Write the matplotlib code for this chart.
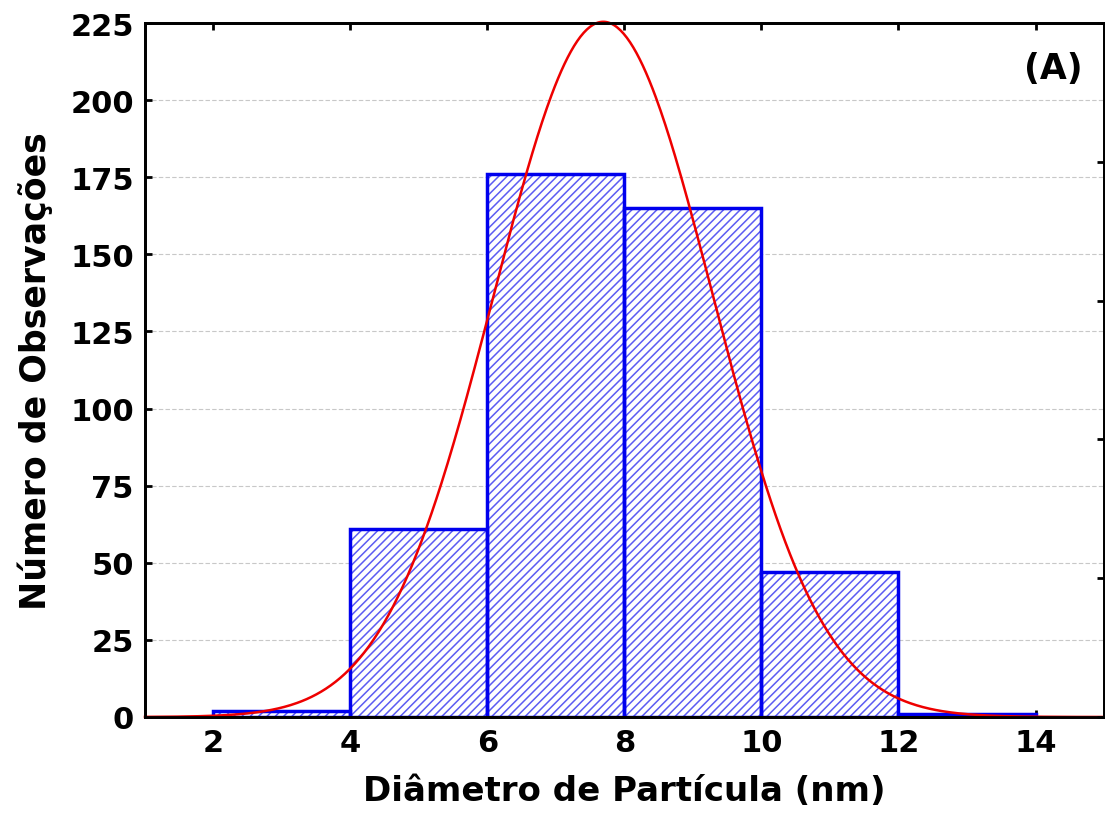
import matplotlib
matplotlib.use("Agg")
import matplotlib.pyplot as plt
import numpy

# histogram data: particle diameter (nm)
bin_edges = [2, 4, 6, 8, 10, 12, 14]
counts = [2, 61, 176, 165, 47, 1]
# fitted normal curve parameters
fit_mean = 7.69
fit_sd = 1.60

y_ticks = [0, 25, 50, 75, 100, 125, 150, 175, 200, 225]
x_ticks = [2, 4, 6, 8, 10, 12, 14]

plt.rcParams['font.family'] = ['DejaVu Sans']
plt.rcParams['font.weight'] = 'bold'
plt.rcParams['hatch.linewidth'] = 1.1

fig = plt.figure(figsize=(11.05, 8.37), dpi=100)
ax = fig.add_axes([0.1312, 0.1422, 0.8679, 0.8291])

widths = numpy.diff(bin_edges)
# hatch layer (hatch colour comes from edgecolor), then the blue outline on top
ax.bar(bin_edges[:-1], counts, width=widths, align='edge', facecolor='white',
       edgecolor='#5c5cf2', linewidth=0, hatch='////', zorder=2)
ax.bar(bin_edges[:-1], counts, width=widths, align='edge', fill=False,
       edgecolor='#0000ee', linewidth=2.5, zorder=2.5)

total = sum(counts)
bw = widths[0]
xs = numpy.linspace(1, 15, 600)
ys = total * bw * numpy.exp(-0.5 * ((xs - fit_mean) / fit_sd) ** 2) / (fit_sd * numpy.sqrt(2 * numpy.pi))
ax.plot(xs, ys, color='#ee0000', linewidth=1.8, zorder=3, clip_on=False)

ax.set_xlim(1, 15)
ax.set_ylim(0, 225)
ax.set_xticks(x_ticks)
ax.set_yticks(y_ticks)
ax.tick_params(direction='in', length=5, width=2, labelsize=22, pad=8,
               top=True, right=False)
for lab in ax.get_xticklabels() + ax.get_yticklabels():
    lab.set_fontweight('bold')

# right axis: percent ticks (10% of total), no labels
ax2 = ax.twinx()
ax2.set_ylim(0, 225 / total * 100)
ax2.set_yticks(numpy.arange(0, 51, 10))
ax2.tick_params(direction='in', length=5, width=2, labelright=False)

for sp in list(ax.spines.values()) + list(ax2.spines.values()):
    sp.set_linewidth(2)

ax.yaxis.grid(True, linestyle=(0, (4, 2)), color='#c8c8c8', linewidth=0.8, zorder=0)
ax.set_axisbelow(True)

ax.set_xlabel('Diâmetro de Partícula (nm)', fontsize=24.5, fontweight='bold', labelpad=12)
ax.set_ylabel('Número de Observações', fontsize=25, fontweight='bold', labelpad=12)
ax.text(0.978, 0.96, '(A)', transform=ax.transAxes, ha='right', va='top',
        fontsize=25, fontweight='bold')

fig.savefig('out.png', dpi=100)
